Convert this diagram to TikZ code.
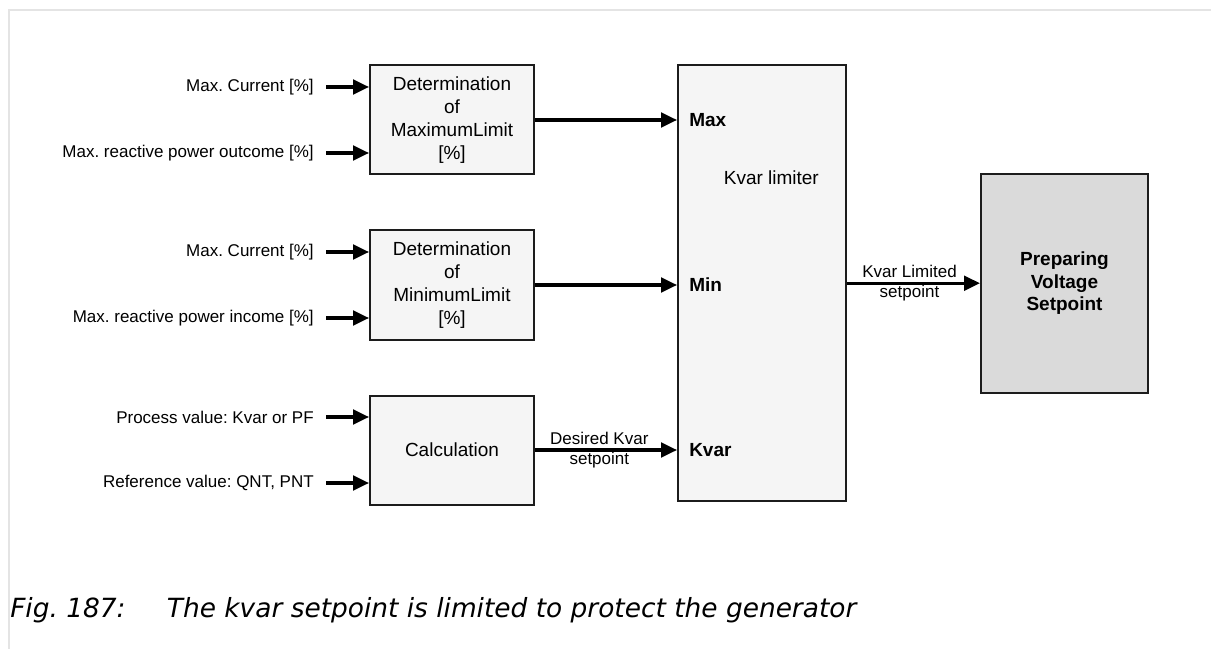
\documentclass[tikz,border=0pt]{standalone}
\usepackage{fontspec}
\setmainfont{Liberation Sans}
\newfontfamily\captionfont{DejaVu Sans}
\usepackage{tikz}
\usetikzlibrary{positioning,arrows.meta}
\usepackage{xcolor}
\definecolor{boxgray}{HTML}{F5F5F5}
\definecolor{prepgray}{HTML}{DADADA}
\definecolor{framegray}{HTML}{E4E4E4}
\definecolor{linedark}{HTML}{1C1C1C}
\frenchspacing

\begin{document}
\begin{tikzpicture}[x=0.75pt, y=-0.75pt, node distance=40.5pt, every node/.style={font=\fontsize{12.75pt}{15pt}\selectfont}]
\tikzstyle{box}=[draw=linedark, line width=1.5pt, fill=boxgray, minimum width=123pt, minimum height=81.75pt, align=center, font=\fontsize{14.25pt}{17.25pt}\selectfont]
\tikzstyle{inlbl}=[inner sep=0pt]
\tikzstyle{port}=[inner sep=0pt, anchor=west, font=\fontsize{14.25pt}{17pt}\selectfont\bfseries]
\tikzstyle{arr}=[line width=2.4pt, -{Triangle[length=12pt, width=11pt]}]
\tikzstyle{elbl}=[align=center, inner sep=0pt]
\useasboundingbox (0,0) rectangle (1211,649);
\draw[framegray, line width=1.5pt] (9,649) -- (9,10) -- (1211,10);
\node[box] (detmax) at (452,120) {Determination\\of\\MaximumLimit\\{[\%]}};
\node[box, below=of detmax] (detmin) {Determination\\of\\MinimumLimit\\{[\%]}};
\node[box, below=of detmin] (calc) {Calculation};
\node[box, minimum width=126pt, minimum height=326.6pt, right=106.5pt of detmax.north east, anchor=north west] (limiter) {};
\node[font=\fontsize{14.25pt}{17pt}\selectfont] (limtxt) at ([xshift=7pt, yshift=-85pt]limiter.north) {Kvar limiter};
\node[box, fill=prepgray, minimum width=125.25pt, minimum height=164.25pt, right=99.75pt of limiter, font=\fontsize{14.25pt}{16.9pt}\selectfont\bfseries] (prep) {Preparing\\Voltage\\Setpoint};
% inputs
\node[inlbl, left=41.25pt of detmax.west, yshift=24.75pt] (curmax) {Max. Current [\%]};
\node[inlbl, left=41.25pt of detmax.west, yshift=-24.75pt] (outcome) {Max. reactive power outcome [\%]};
\node[inlbl, left=41.25pt of detmin.west, yshift=24.75pt] (curmin) {Max. Current [\%]};
\node[inlbl, left=41.25pt of detmin.west, yshift=-24.75pt] (income) {Max. reactive power income [\%]};
\node[inlbl, left=41.25pt of calc.west, yshift=24.75pt] (procval) {Process value: Kvar or PF};
\node[inlbl, left=41.25pt of calc.west, yshift=-24.75pt] (refval) {Reference value: QNT, PNT};
\draw[arr] ([xshift=9pt]curmax.east) -- (curmax.east -| detmax.west);
\draw[arr] ([xshift=9pt]outcome.east) -- (outcome.east -| detmax.west);
\draw[arr] ([xshift=9pt]curmin.east) -- (curmin.east -| detmin.west);
\draw[arr] ([xshift=9pt]income.east) -- (income.east -| detmin.west);
\draw[arr] ([xshift=9pt]procval.east) -- (procval.east -| calc.west);
\draw[arr] ([xshift=9pt]refval.east) -- (refval.east -| calc.west);
% limiter inputs
\draw[arr] (detmax.east) -- (detmax.east -| limiter.west);
\draw[arr] (detmin.east) -- (detmin.east -| limiter.west);
\draw[arr] (calc.east) -- (calc.east -| limiter.west) node[elbl, midway, xshift=-5pt] (desired) {Desired Kvar\\setpoint};
\node[port] (pmax) at ([xshift=9pt]detmax.east -| limiter.west) {Max};
\node[port] (pmin) at ([xshift=9pt]detmin.east -| limiter.west) {Min};
\node[port] (pkvar) at ([xshift=9pt]calc.east -| limiter.west) {Kvar};
\draw[arr] (limiter.east |- prep.west) -- (prep.west) node[elbl, midway, xshift=-3pt] (limited) {Kvar Limited\\setpoint};
\node[anchor=base west, inner sep=0pt, font=\captionfont\itshape\fontsize{19.8pt}{24pt}\selectfont] (caption) at (10,617) {Fig. 187:\hspace{31pt}The kvar setpoint is limited to protect the generator};
\end{tikzpicture}
\end{document}
